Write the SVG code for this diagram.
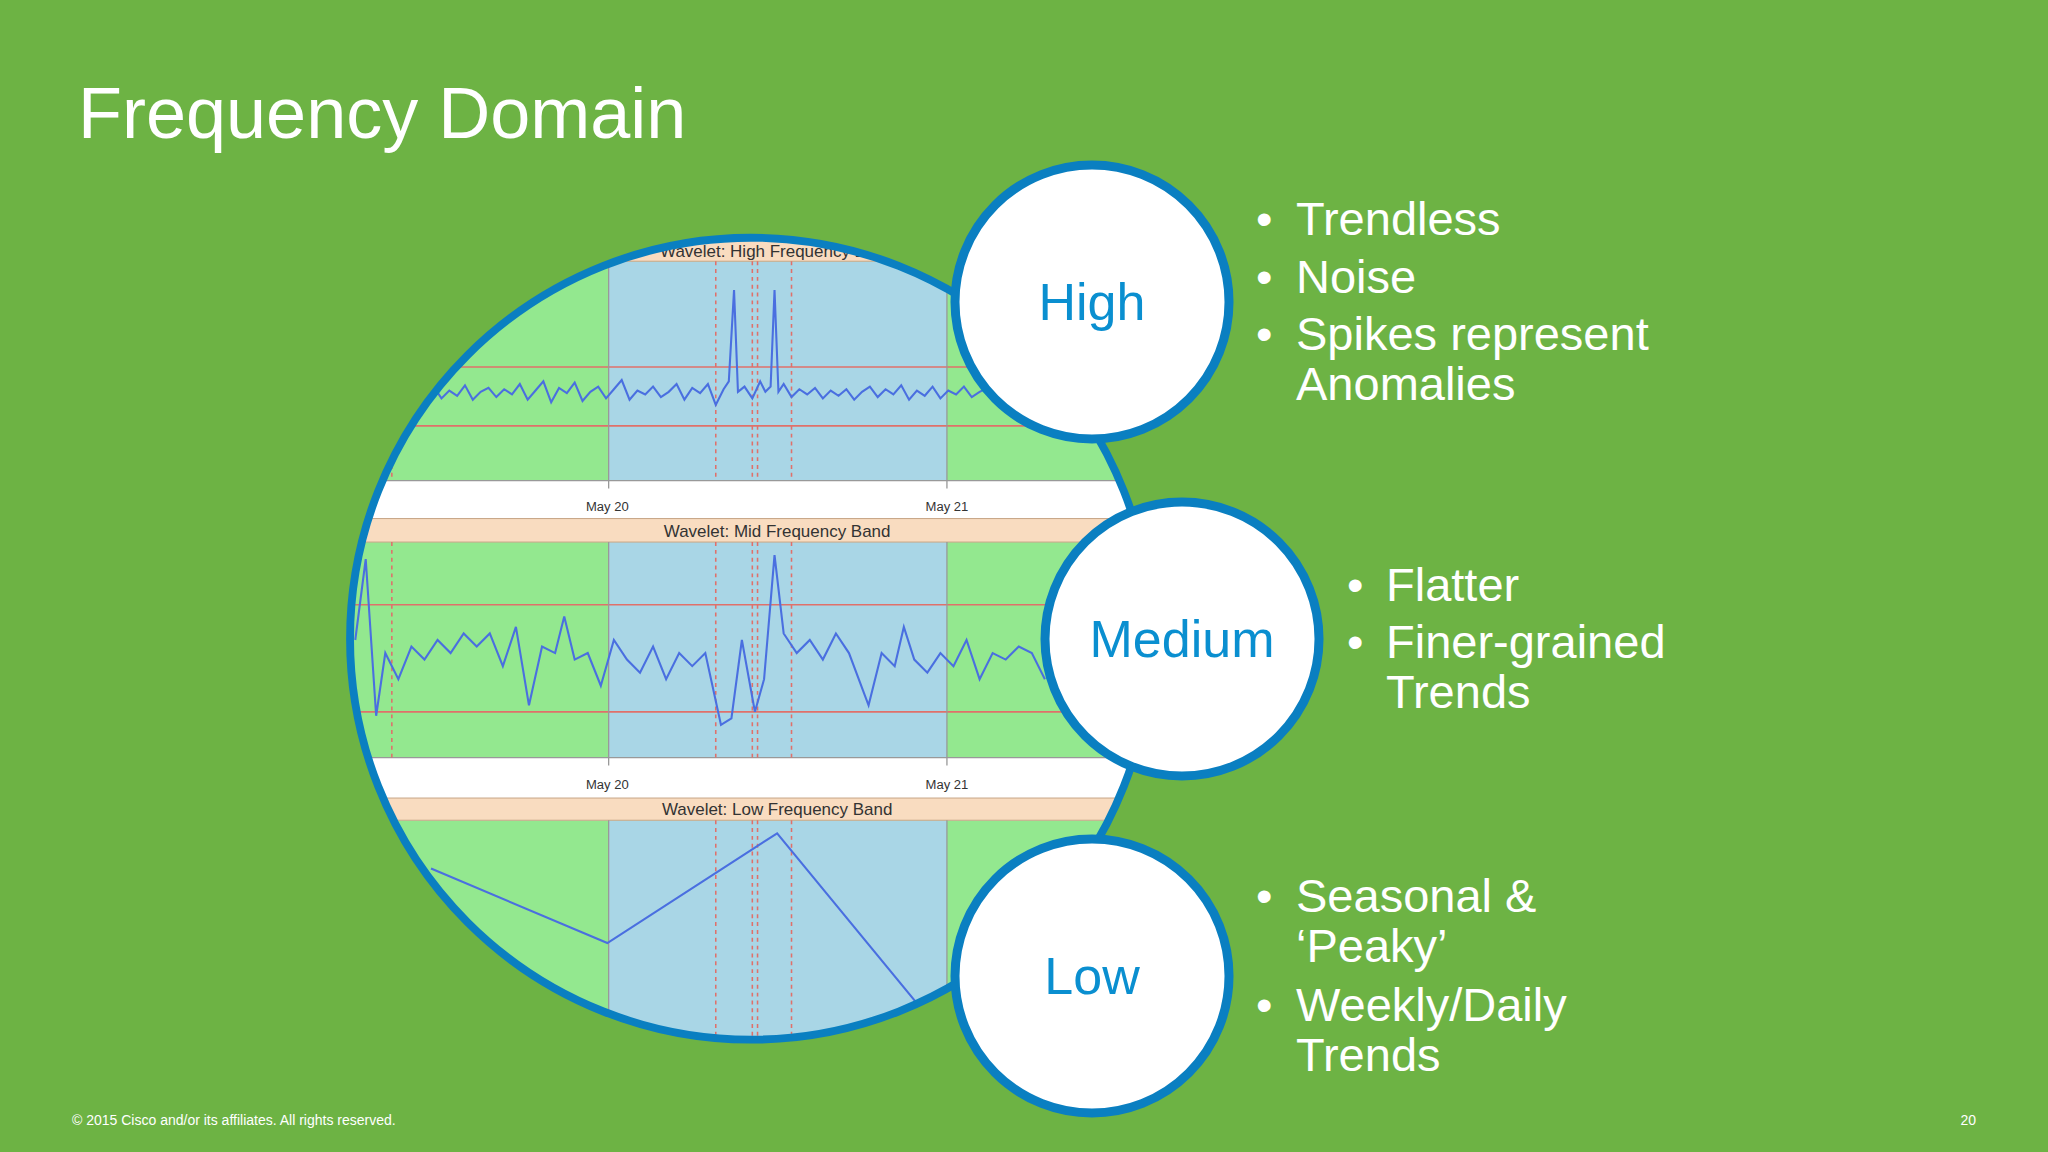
<svg xmlns="http://www.w3.org/2000/svg" width="2048" height="1152" viewBox="0 0 2048 1152">
<style>
.t{font-family:"Liberation Sans",Arial,sans-serif;fill:#fff}
.b{font-family:"Liberation Sans",Arial,sans-serif;fill:#fff;font-size:47px}
.cl{font-family:"Liberation Sans",Arial,sans-serif;fill:#0a8fd0;font-size:52px;text-anchor:middle}
.node{fill:#fff;stroke:#0a7fc1;stroke-width:9}
.red{stroke:#e0706a;stroke-width:1.3}
.dash{stroke:#e0706a;stroke-width:1.2;stroke-dasharray:3 3}
.hdr{fill:#f9dcc0;stroke:#c9a88a;stroke-width:0.8}
.hl{font-family:"Liberation Sans",Arial,sans-serif;font-size:13px;fill:#333;text-anchor:middle}
.ax{font-family:"Liberation Sans",Arial,sans-serif;font-size:10px;fill:#333;text-anchor:middle}
.sig{fill:none;stroke:#4a6fe0;stroke-width:1.6}
</style>
<defs>
<clipPath id="cc"><circle cx="575" cy="489" r="307"/></clipPath>
</defs>
<rect width="2048" height="1152" fill="#6db344"/>
<text class="t" x="78" y="138" font-size="72">Frequency Domain</text>
<g id="chart" transform="scale(1.30612)">
<g clip-path="url(#cc)">
<rect x="260" y="180" width="640" height="630" fill="#fff"/>
<rect x="270" y="200" width="620" height="168" fill="#93e88f"/>
<rect x="270" y="415" width="620" height="165" fill="#93e88f"/>
<rect x="270" y="628" width="620" height="180" fill="#93e88f"/>
<rect x="466" y="200" width="259" height="168" fill="#a9d6e6"/>
<rect x="466" y="415" width="259" height="165" fill="#a9d6e6"/>
<rect x="466" y="628" width="259" height="180" fill="#a9d6e6"/>
<rect class="hdr" x="270" y="183" width="620" height="17"/>
<rect class="hdr" x="270" y="397" width="620" height="18"/>
<rect class="hdr" x="270" y="611" width="620" height="17"/>
<text class="hl" x="595" y="197">Wavelet: High Frequency Band</text>
<text class="hl" x="595" y="411">Wavelet: Mid Frequency Band</text>
<text class="hl" x="595" y="624">Wavelet: Low Frequency Band</text>
<line class="red" x1="270" y1="281" x2="890" y2="281"/>
<line class="red" x1="270" y1="326" x2="890" y2="326"/>
<line class="red" x1="270" y1="463" x2="890" y2="463"/>
<line class="red" x1="270" y1="545" x2="890" y2="545"/>
<g stroke="#999" stroke-width="1">
<line x1="466" y1="200" x2="466" y2="374"/><line x1="725" y1="200" x2="725" y2="374"/>
<line x1="466" y1="415" x2="466" y2="586"/><line x1="725" y1="415" x2="725" y2="586"/>
<line x1="466" y1="628" x2="466" y2="808"/><line x1="725" y1="628" x2="725" y2="808"/>
<line x1="270" y1="368" x2="890" y2="368"/><line x1="270" y1="580" x2="890" y2="580"/>
</g>
<g>
<line class="dash" x1="300" y1="200" x2="300" y2="368"/><line class="dash" x1="548" y1="200" x2="548" y2="368"/><line class="dash" x1="576" y1="200" x2="576" y2="368"/><line class="dash" x1="580" y1="200" x2="580" y2="368"/><line class="dash" x1="606" y1="200" x2="606" y2="368"/>
<line class="dash" x1="300" y1="415" x2="300" y2="580"/><line class="dash" x1="548" y1="415" x2="548" y2="580"/><line class="dash" x1="576" y1="415" x2="576" y2="580"/><line class="dash" x1="580" y1="415" x2="580" y2="580"/><line class="dash" x1="606" y1="415" x2="606" y2="580"/>
<line class="dash" x1="548" y1="628" x2="548" y2="808"/><line class="dash" x1="576" y1="628" x2="576" y2="808"/><line class="dash" x1="580" y1="628" x2="580" y2="808"/><line class="dash" x1="606" y1="628" x2="606" y2="808"/>
</g>
<text class="ax" x="465" y="391">May 20</text><text class="ax" x="725" y="391">May 21</text>
<text class="ax" x="465" y="604">May 20</text><text class="ax" x="725" y="604">May 21</text>
<polyline class="sig" points="320,298 326,302 332,296 338,305 344,299 350,303 356,295 362,306 368,300 374,297 380,304 386,298 392,302 398,294 404,306 410,299 416,292 422,308 428,297 434,301 440,293 446,307 452,300 458,296 464,305 470,298 476,291 482,306 488,299 494,302 500,296 506,304 512,300 518,294 524,306 530,297 536,301 542,294 548,310 554,298 558,292 562,222 565,300 570,296 576,305 582,292 586,300 590,296 593,222 596,300 600,294 606,304 612,298 618,302 624,297 630,305 636,299 642,303 648,298 654,306 660,300 666,296 672,304 678,298 684,302 690,295 696,306 702,299 708,303 714,296 720,305 726,299 732,302 738,296 744,304 750,300 756,297 762,303"/>
<polyline class="sig" points="272,490 280,428 288,548 295,500 305,520 315,495 325,505 335,490 345,500 355,485 365,495 375,485 385,510 395,480 405,540 415,495 425,500 432,472 440,505 450,500 460,525 470,490 480,505 490,515 500,495 510,520 520,500 530,510 540,500 552,555 560,550 568,490 578,545 585,520 593,425 600,485 610,500 620,490 630,505 640,485 650,500 665,540 675,500 685,510 692,480 700,505 710,515 720,500 730,510 740,490 750,520 760,500 770,505 780,495 790,500 800,520"/>
<polyline class="sig" points="330,665 465,722 595,638 720,790 760,840"/>
</g>
<circle cx="575" cy="489" r="307" fill="none" stroke="#0a7fc1" stroke-width="6"/>
</g>
<g id="high"><circle class="node" cx="1092" cy="302" r="137"/><text class="cl" x="1092" y="320">High</text></g>
<g id="medium"><circle class="node" cx="1182" cy="639" r="137"/><text class="cl" x="1182" y="657">Medium</text></g>
<g id="low"><circle class="node" cx="1092" cy="976" r="137"/><text class="cl" x="1092" y="994">Low</text></g>
<g id="connectors"/>
<g id="bullets-high">
<text class="b" x="1256" y="235">•</text><text class="b" x="1296" y="235">Trendless</text>
<text class="b" x="1256" y="293">•</text><text class="b" x="1296" y="293">Noise</text>
<text class="b" x="1256" y="350">•</text><text class="b" x="1296" y="350">Spikes represent</text>
<text class="b" x="1296" y="400">Anomalies</text>
</g>
<g id="bullets-medium">
<text class="b" x="1347" y="601">•</text><text class="b" x="1386" y="601">Flatter</text>
<text class="b" x="1347" y="658">•</text><text class="b" x="1386" y="658">Finer-grained</text>
<text class="b" x="1386" y="708">Trends</text>
</g>
<g id="bullets-low">
<text class="b" x="1256" y="912">•</text><text class="b" x="1296" y="912">Seasonal &amp;</text>
<text class="b" x="1296" y="962">‘Peaky’</text>
<text class="b" x="1256" y="1021">•</text><text class="b" x="1296" y="1021">Weekly/Daily</text>
<text class="b" x="1296" y="1071">Trends</text>
</g>
<text class="t" x="72" y="1125" font-size="14">© 2015 Cisco and/or its affiliates. All rights reserved.</text>
<text class="t" x="1976" y="1125" font-size="14" text-anchor="end">20</text>
</svg>
